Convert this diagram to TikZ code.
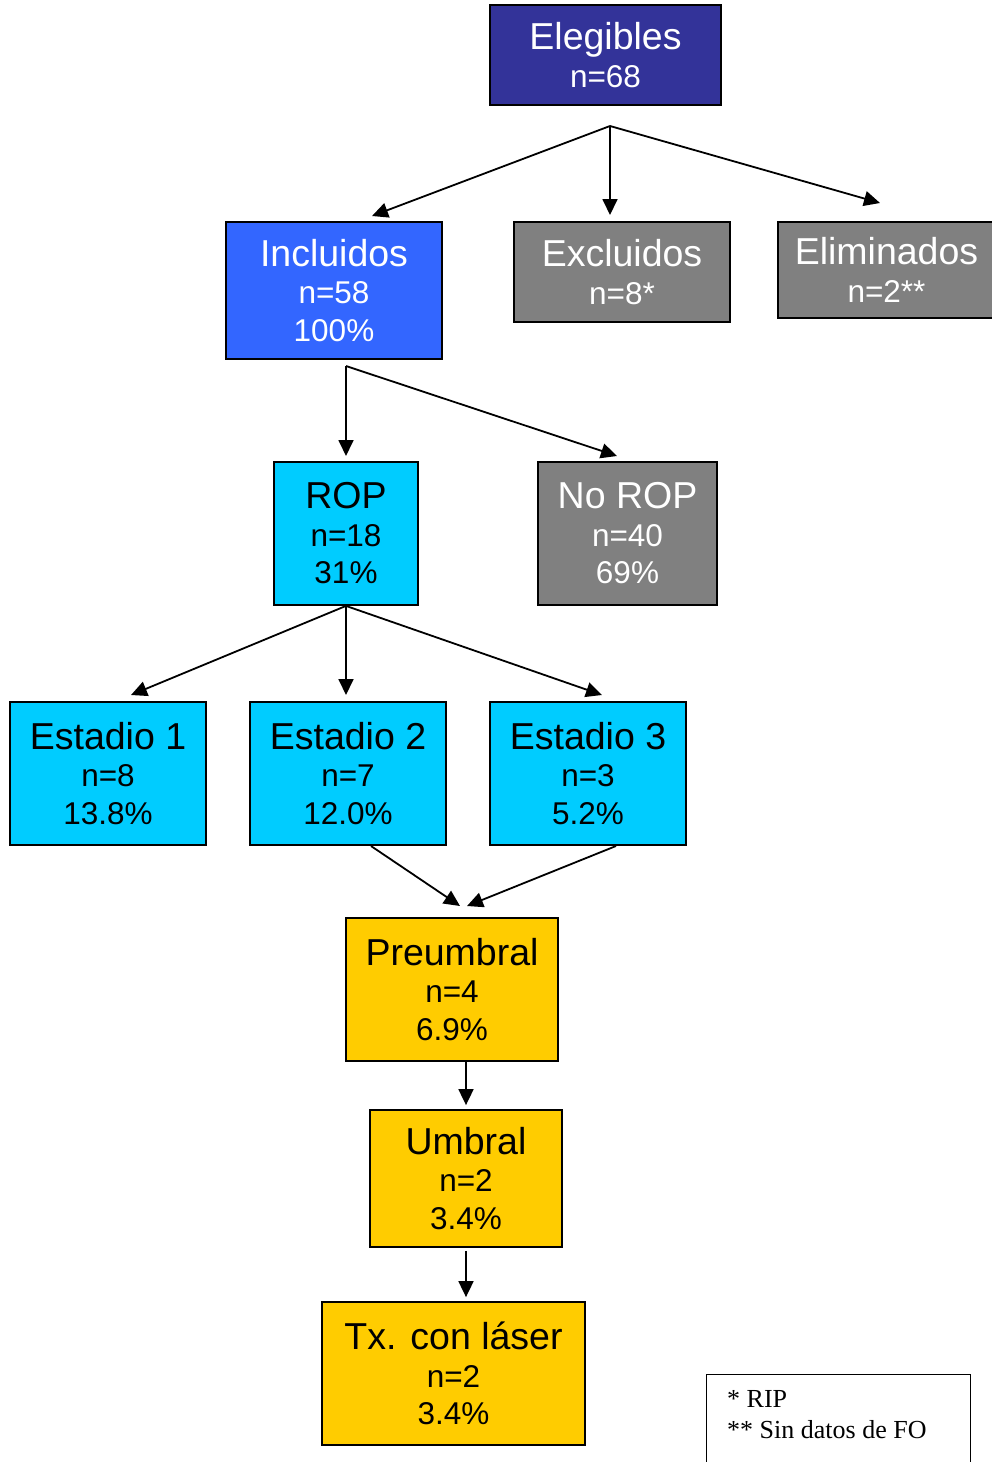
\documentclass[tikz,border=0pt]{standalone}
\usepackage{fontspec}
\setmainfont{Liberation Sans}
\newfontfamily\legendfont{Liberation Serif}
\usetikzlibrary{arrows.meta}
\definecolor{elegblue}{HTML}{333399}
\definecolor{inclblue}{HTML}{3366FF}
\definecolor{outgray}{HTML}{808080}
\definecolor{ropcyan}{HTML}{00CCFF}
\definecolor{treatyellow}{HTML}{FFCC00}
\newcommand\boxtitle[1]{{\fontsize{37.5}{39}\selectfont #1}}

\begin{document}
\begin{tikzpicture}[x=1pt,y=-1pt,
  box/.style={draw,line width=1.8pt,align=center,inner sep=0pt,font=\fontsize{31.5}{37.5}\selectfont},
  outbox/.style={box,fill=outgray,text=white},
  flow/.style={line width=1.8pt,-{Triangle[length=16pt,width=15pt]}}]
\useasboundingbox (0,0) rectangle (991,1462);

\node[box,fill=elegblue,text=white,minimum width=231,minimum height=100] (eleg) at (605.5,55) {\boxtitle{Elegibles}\\n=68};
\node[box,fill=inclblue,text=white,minimum width=216,minimum height=137] (incl) at (334,290.5) {\boxtitle{Incluidos}\\n=58\\100\%};
\node[outbox,minimum width=216,minimum height=100] (excl) at (622,272) {\boxtitle{Excluidos}\\n=8*};
\node[outbox,minimum width=217,minimum height=96] (elim) at (886.5,270) {\boxtitle{Eliminados}\\n=2**};

\coordinate (eleg-j) at (610,126);
\foreach \dst/\x/\y in {incl/372/216,excl/610/215,elim/880/203}{
  \coordinate (\dst-in) at (\x,\y);
  \draw[flow] (eleg-j) -- (\dst-in);
}

\node[box,fill=ropcyan,minimum width=144,minimum height=143] (rop) at (346,533.5) {\boxtitle{ROP}\\n=18\\31\%};
\node[outbox,minimum width=179,minimum height=143] (norop) at (627.5,533.5) {\boxtitle{No ROP}\\n=40\\69\%};

\coordinate (incl-j) at (346,366);
\coordinate (rop-in) at (346,456);
\coordinate (norop-in) at (617,456);
\draw[flow] (incl-j) -- (rop-in);
\draw[flow] (incl-j) -- (norop-in);

\foreach \i/\x/\cnt/\pct/\ax in {1/108/8/13.8/131,2/348/7/12.0/346,3/588/3/5.2/602}{
  \node[box,fill=ropcyan,minimum width=196,minimum height=143] (est\i) at (\x,773.5) {\boxtitle{Estadio \i}\\n=\cnt\\\pct\%};
  \coordinate (est\i-in) at (\ax,695);
  \draw[flow] (rop.south) -- (est\i-in);
}

\node[box,fill=treatyellow,minimum width=212,minimum height=143] (preu) at (452,989.5) {\boxtitle{Preumbral}\\n=4\\6.9\%};
\node[box,fill=treatyellow,minimum width=192,minimum height=137] (umb) at (466,1178.5) {\boxtitle{Umbral}\\n=2\\3.4\%};
\node[box,fill=treatyellow,minimum width=263,minimum height=143] (tx) at (453.5,1373.5) {\boxtitle{Tx. con láser}\\n=2\\3.4\%};

\coordinate (est2-out) at (371,846);
\coordinate (est3-out) at (616,846);
\coordinate (preu-in2) at (460,906);
\coordinate (preu-in3) at (467,906);
\draw[flow] (est2-out) -- (preu-in2);
\draw[flow] (est3-out) -- (preu-in3);

\draw[flow,shorten >=4pt] (umb.north |- preu.south) -- (umb.north);
\draw[flow,shorten <=3pt,shorten >=4pt] (umb.south) -- (umb.south |- tx.north);

\node[draw,line width=1.2pt,minimum width=264,minimum height=110,anchor=north west] (legend) at (706,1374) {};
\node[anchor=north west,align=left,inner sep=0pt,font=\legendfont\fontsize{26}{31}\selectfont] (legend-text) at ([shift={(21,16)}]legend.north west) {* RIP\\** Sin datos de FO};
\end{tikzpicture}
\end{document}
